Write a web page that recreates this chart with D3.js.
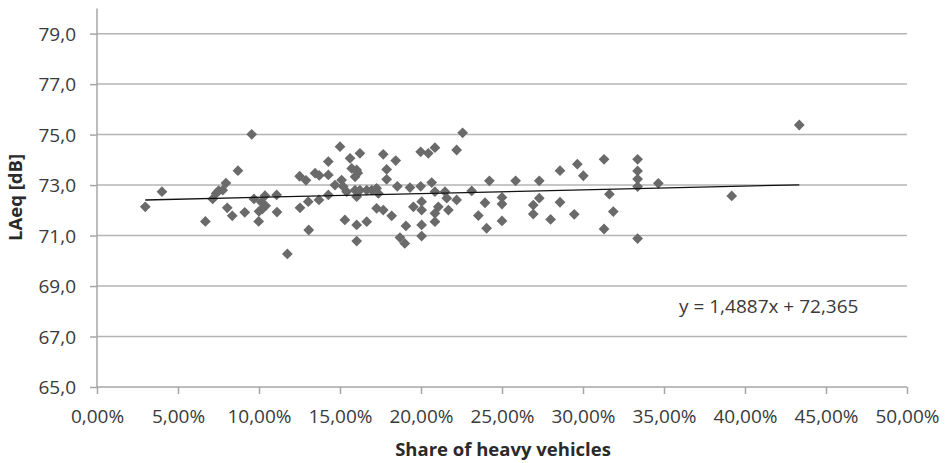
<!DOCTYPE html>
<html>
<head>
<meta charset="utf-8">
<script src="https://cdnjs.cloudflare.com/ajax/libs/d3/7.8.5/d3.min.js"></script>
<style>
	body { margin: 0; background: #fff; }
	svg { display: block; font-family: "Open Sans", sans-serif; }
	.tickLabel { font-size: 19px; fill: #3a3a3a; }
	.axisTitle { font-size: 18.5px; font-weight: bold; fill: #2a2a2a; }
</style>
</head>
<body>
<script>
'use strict'

// share of heavy vehicles [%]
const shareHeavy = [
	2.98, 4.01, 6.69, 7.14, 7.35, 7.51, 7.76, 7.96, 8.04, 8.35,
	8.70, 9.12, 9.55, 9.69, 9.98, 10.00, 10.14, 10.37, 10.41, 10.20,
	11.09, 11.11, 11.75, 12.51, 12.53, 12.90, 13.04, 13.07, 13.72, 13.70,
	14.28, 14.28, 14.28, 14.69, 15.00, 15.10, 15.20, 15.41, 15.30, 15.62,
	15.72, 15.93, 16.03, 16.23, 15.93, 16.03, 16.03, 16.03, 16.65, 16.23,
	16.65, 16.96, 17.26, 17.37, 17.26, 17.67, 17.67, 17.88, 17.88, 18.19,
	18.44, 18.54, 19.07, 18.70, 19.00, 19.32, 19.53, 19.98, 19.98, 20.45,
	20.86, 20.66, 20.86, 20.04, 20.04, 20.04, 20.04, 20.86, 20.86, 21.07,
	21.48, 21.59, 21.69, 22.20, 22.20, 22.57, 23.13, 23.54, 24.05, 24.22,
	23.95, 25.00, 25.00, 25.00, 25.84, 27.30, 27.30, 26.93, 26.93, 28.00,
	28.58, 28.58, 29.46, 29.65, 30.02, 31.30, 31.30, 31.63, 31.87, 33.37,
	33.37, 33.37, 33.37, 33.37, 34.65, 39.18, 43.35, 16.10, 13.46
];

// LAeq [dB]
const laeq = [
	72.14, 72.74, 71.56, 72.45, 72.67, 72.78, 72.80, 73.08, 72.10, 71.78,
	73.57, 71.92, 75.01, 72.45, 71.56, 71.96, 72.33, 72.58, 72.18, 72.05,
	72.61, 71.93, 70.27, 73.35, 72.10, 73.19, 72.34, 71.22, 73.38, 72.41,
	73.93, 73.40, 72.61, 73.00, 74.52, 73.20, 72.94, 72.74, 71.62, 74.06,
	73.66, 73.33, 73.60, 74.26, 72.80, 72.54, 71.42, 70.78, 71.55, 72.80,
	72.80, 72.80, 72.87, 72.67, 72.08, 72.01, 74.22, 73.62, 73.23, 71.78,
	73.97, 72.95, 71.38, 70.92, 70.69, 72.90, 72.14, 72.95, 74.32, 74.26,
	74.48, 73.10, 72.74, 72.34, 72.01, 71.42, 70.98, 71.88, 71.55, 72.14,
	72.74, 72.48, 72.01, 72.41, 74.39, 75.07, 72.77, 71.79, 71.29, 73.17,
	72.30, 72.51, 72.25, 71.58, 73.17, 73.17, 72.48, 72.21, 71.85, 71.64,
	73.57, 72.32, 71.84, 73.83, 73.37, 74.02, 71.26, 72.64, 71.95, 74.02,
	73.56, 73.24, 72.94, 70.88, 73.07, 72.57, 75.38, 73.48, 73.47
];

const xTicks = [0, 5, 10, 15, 20, 25, 30, 35, 40, 45, 50];
const yTicks = [65, 67, 69, 71, 73, 75, 77, 79];

// linear trend from the chart: y = 1,4887x + 72,365 (x as fraction)
const slope = 1.4887;
const intercept = 72.365;
const equationLabel = "y = 1,4887x + 72,365";

const w = 949;
const h = 463;
const gridColor = "#b4b4b4";
const axisColor = "#a6a6a6";
const markColor = "#6a6a6a";

const points = shareHeavy.map((s, i) => ({ share: s, level: laeq[i] }));

const xScale = d3.scaleLinear()
	.domain([0, 50])
	.range([97, 907]);

const yScale = d3.scaleLinear()
	.domain([65, 80])
	.range([387, 8.4]);

const fmtPct = (d) => d3.format(".2f")(d).replace(".", ",") + "%";
const fmtDb = (d) => d3.format(".1f")(d).replace(".", ",");

const svg = d3.select("body")
	.append("svg")
	.attr("width", w)
	.attr("height", h);

// horizontal gridlines
svg.append("g")
	.selectAll("line")
	.data(yTicks.slice(1))
	.enter()
	.append("line")
	.attr("x1", xScale(0))
	.attr("x2", xScale(50))
	.attr("y1", (d) => yScale(d))
	.attr("y2", (d) => yScale(d))
	.attr("stroke", gridColor)
	.attr("stroke-width", 1.5);

const xAxis = d3.axisBottom(xScale)
	.tickValues(xTicks)
	.tickSize(7)
	.tickFormat(fmtPct);

const yAxis = d3.axisLeft(yScale)
	.tickValues(yTicks)
	.tickSize(7)
	.tickFormat(fmtDb);

const gx = svg.append("g")
	.attr("transform", "translate(0," + yScale(65) + ")")
	.call(xAxis);

const gy = svg.append("g")
	.attr("transform", "translate(" + xScale(0) + ",0)")
	.call(yAxis);

[gx, gy].forEach((g) => {
	g.attr("font-size", null).attr("font-family", null);
	g.select(".domain")
		.attr("stroke", axisColor)
		.attr("stroke-width", 1.5)
		.attr("d", g === gx ? "M" + xScale(0) + ",0H" + xScale(50) : "M0," + yScale(65) + "V" + yScale(80));
	g.selectAll(".tick line")
		.attr("stroke", axisColor)
		.attr("stroke-width", 1.5);
	g.selectAll(".tick text")
		.attr("class", "tickLabel")
		.attr("fill", null);
});
gx.selectAll(".tick text").attr("y", 22.5);
gy.selectAll(".tick text").attr("x", -21).attr("dy", "0.36em");

// points
svg.append("g")
	.selectAll("path")
	.data(points)
	.enter()
	.append("path")
	.attr("d", d3.symbol(d3.symbolSquare, 58))
	.attr("transform", (d) => "translate(" + xScale(d.share) + "," + yScale(d.level) + ") rotate(45)")
	.attr("fill", markColor);

// trend line
const xMin = d3.min(shareHeavy);
const xMax = d3.max(shareHeavy);
const trend = [xMin, xMax].map((s) => ({ share: s, level: slope * s / 100 + intercept }));

svg.append("path")
	.datum(trend)
	.attr("d", d3.line().x((d) => xScale(d.share)).y((d) => yScale(d.level)))
	.attr("fill", "none")
	.attr("stroke", "#111")
	.attr("stroke-width", 1.3);

svg.append("text")
	.attr("x", 679)
	.attr("y", 313)
	.attr("class", "tickLabel")
	.text(equationLabel);

svg.append("text")
	.attr("x", 503)
	.attr("y", 456)
	.attr("text-anchor", "middle")
	.attr("class", "axisTitle")
	.text("Share of heavy vehicles");

svg.append("text")
	.attr("transform", "translate(21.5,197.5) rotate(-90)")
	.attr("text-anchor", "middle")
	.attr("class", "axisTitle")
	.text("LAeq [dB]");
</script>
</body>
</html>
